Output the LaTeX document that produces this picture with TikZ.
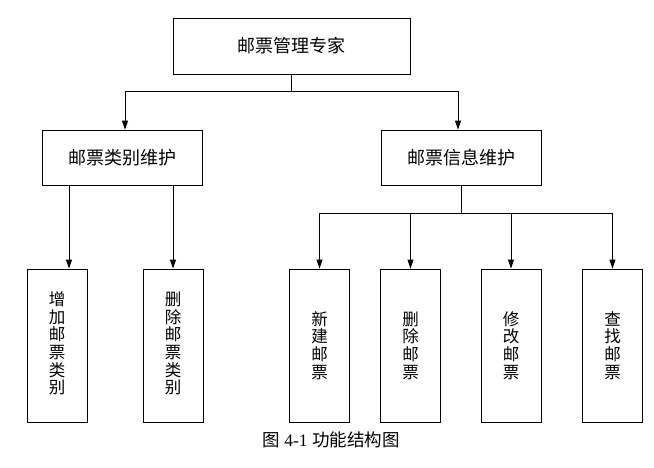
\documentclass[tikz,border=0pt]{standalone}
\usepackage{fontspec}
\setmainfont{Liberation Serif}
\newfontfamily\cjk{Noto Sans CJK SC}
\usetikzlibrary{arrows.meta}
\tikzset{
    func-box/.style = {draw=black, fill=white, line width=0.9pt, rectangle, inner sep=0pt, font=\cjk\fontsize{18}{19}\selectfont},
    leaf-box/.style = {func-box, minimum width=60pt, minimum height=153pt, align=center, font=\cjk\fontsize{16.5}{17.7}\selectfont},
    link/.style = {line width=0.9pt, -{Triangle[length=9pt,width=6pt]}},
}

\begin{document}
\begin{tikzpicture}[x=1pt, y=-1pt]
\useasboundingbox (0,0) rectangle (654,467);
\node [func-box, minimum width=237pt, minimum height=56pt] (root) at (291.5,46) {邮票管理专家};
\node [func-box, minimum width=160pt, minimum height=55pt] (kind) at (122,157.5) {邮票类别维护};
\node [func-box, minimum width=160pt, minimum height=55pt] (info) at (461,157.5) {邮票信息维护};

\node [leaf-box] (add-kind) at (57,345.5) {\\[-8pt]增\\加\\邮\\票\\类\\别};
\node [leaf-box] (del-kind) at (173,345.5) {\\[-8pt]删\\除\\邮\\票\\类\\别};
\node [leaf-box] (new-stamp) at (319.5,345.5) {新\\建\\邮\\票};
\node [leaf-box] (del-stamp) at (410.5,345.5) {删\\除\\邮\\票};
\node [leaf-box] (edit-stamp) at (511,345.5) {修\\改\\邮\\票};
\node [leaf-box] (find-stamp) at (612.5,345.5) {查\\找\\邮\\票};

% top level
\draw [line width=0.9pt] (root.south) -- ++(0,17) coordinate (root-split);
\draw [link] (root-split) -| ([xshift=3pt]kind.north);
\draw [link] (root-split) -| ([xshift=-3pt]info.north);

% category maintenance
\draw [link] ([xshift=12pt]add-kind.north |- kind.south) -- ([xshift=12pt]add-kind.north);
\draw [link] (del-kind.north |- kind.south) -- (del-kind.north);

% stamp maintenance
\draw [line width=0.9pt] (info.south) -- ++(0,28) coordinate (info-split);
\draw [link] (info-split) -| (new-stamp.north);
\draw [link] (info-split) -| (del-stamp.north);
\draw [link] (info-split) -| (edit-stamp.north);
\draw [link] (info-split) -| (find-stamp.north);

\node [font=\fontsize{17.5}{18}\selectfont] (caption) at (331,440) {{\cjk 图} 4-1 {\cjk 功能结构图}};
\end{tikzpicture}
\end{document}
